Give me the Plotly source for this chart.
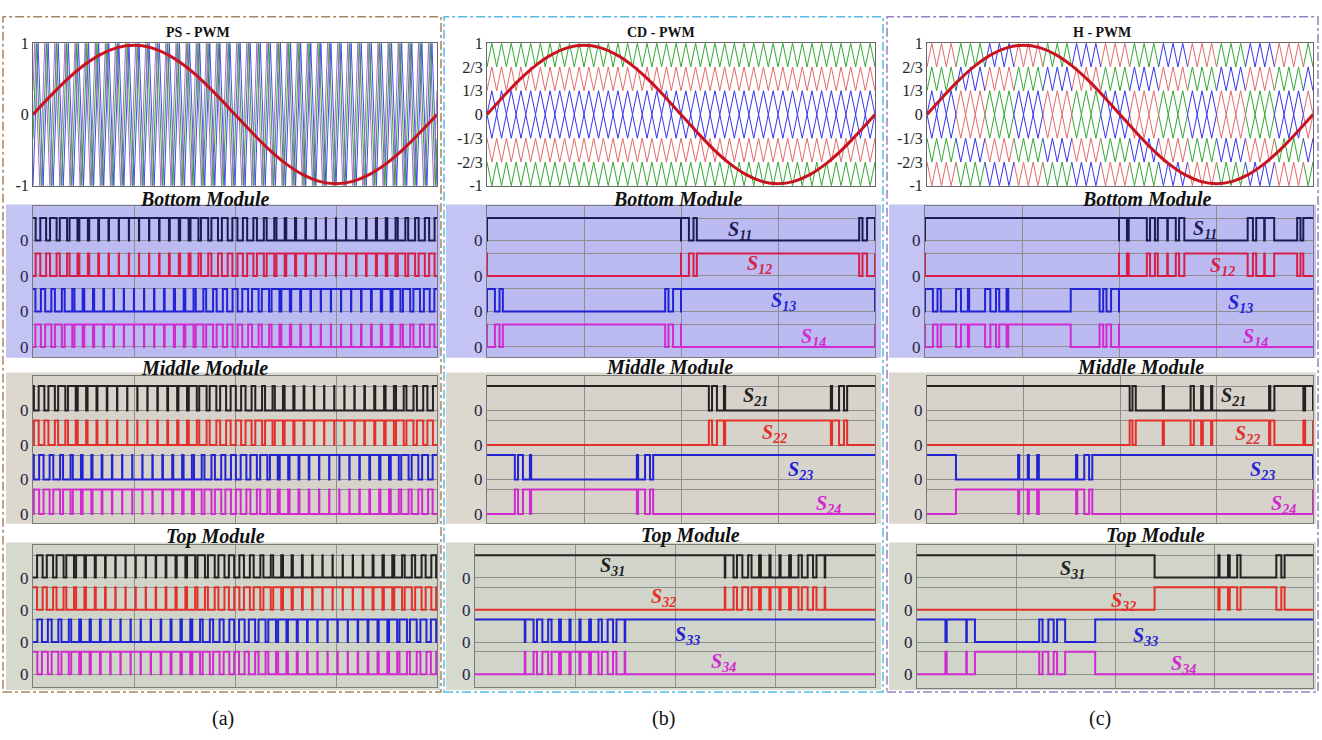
import numpy as np
import plotly.graph_objects as go

W, H = 1322, 740

# ---------------- values ----------------
ref_angle_deg = [0, 15, 30, 45, 60, 75, 90, 105, 120, 135, 150, 165, 180,
                 195, 210, 225, 240, 255, 270, 285, 300, 315, 330, 345, 360]
ref_value = [0.00, 0.25, 0.485, 0.686, 0.84, 0.937, 0.97, 0.937, 0.84, 0.686, 0.485, 0.25, 0.00,
             -0.25, -0.485, -0.686, -0.84, -0.937, -0.97, -0.937, -0.84, -0.686, -0.485, -0.25, 0.00]
carrier_cycles = 40              # carrier periods per fundamental period
ps_phase = [0.0, 1 / 6, 2 / 6]   # PS-PWM carrier shift per module (fraction of a carrier period)
band_edges = [0.0, 1 / 3, 2 / 3, 1.0]
cd_band = [0, 1, 2]              # CD-PWM band pair used by bottom / middle / top module
h_block_cycles = 3               # H-PWM: carrier periods before the bands rotate
h_band_offset = [0, 2, 1]        # H-PWM: band pair offset of bottom / middle / top module

method_names = ["PS - PWM", "CD - PWM", "H - PWM"]
module_names = ["Bottom Module", "Middle Module", "Top Module"]
panel_tags = ["(a)", "(b)", "(c)"]
ps_tick_vals = [1, 0, -1]
ps_tick_text = ["1", "0", "-1"]
lvl_tick_vals = [1, 2 / 3, 1 / 3, 0, -1 / 3, -2 / 3, -1]
lvl_tick_text = ["1", "2/3", "1/3", "0", "-1/3", "-2/3", "-1"]
switch_ids = [["11", "12", "13", "14"], ["21", "22", "23", "24"], ["31", "32", "33", "34"]]

# ---------------- styles / layout ----------------
SERIF = "Liberation Serif"
ps_carrier_colors = ["#4646ff", "#35a035", "#a070c8"]
module_carrier_colors = ["#3535ee", "#e36b6b", "#35a835"]
sig_colors = [
    ["#1b1b58", "#d81e48", "#2323d6", "#d12ad1"],
    ["#222222", "#e3302a", "#2323d6", "#d12ad1"],
    ["#222222", "#e3302a", "#2323d6", "#d12ad1"],
]
carrier_box = [(33, 437, 36, 182), (487, 875, 36, 182), (927, 1313, 36, 182)]
module_box = [
    [(33, 437, 203, 357), (33, 437, 377, 527), (33, 437, 550, 695)],
    [(487, 875, 203, 357), (487, 875, 377, 527), (475, 875, 550, 695)],
    [(925, 1313, 203, 357), (927, 1313, 377, 527), (917, 1313, 550, 696)],
]
row_geom = [(238, 23, 36.3), (412, 25, 35.3), (583, 23, 33.0)]  # first baseline px, amplitude px, spacing px
region_y = [(201, 358), (373, 528), (547, 698)]
region_x = [(6, 440), (446, 881), (889, 1316)]
region_tint = ["#c3c3f4", "#dcd8d0", "#d6d9ce"]
panel_tint = ["#bbbbf1", "#d7d2ca", "#d1d4c8"]
border_colors = ["#a98462", "#58b9e6", "#9581c4"]
border_x = [(3, 441), (444, 883), (887, 1318)]

label_pos = {
    (1, 0): [(740, 228), (760, 263), (783, 300), (813, 337)],
    (2, 0): [(1205, 227), (1222, 265), (1240, 302), (1255, 337)],
    (1, 1): [(755, 398), (775, 435), (800, 473), (828, 508)],
    (2, 1): [(1233, 398), (1247, 437), (1262, 473), (1283, 508)],
    (1, 2): [(612, 572), (663, 603), (687, 642), (723, 670)],
    (2, 2): [(1072, 575), (1123, 607), (1145, 643), (1183, 672)],
}
title_pos = [(198, 25), (661, 25), (1102, 25)]
module_title_pos = [
    [(205, 195), (204, 368), (216, 541)],
    [(677, 195), (670, 367), (690, 540)],
    [(1146, 195), (1140, 367), (1155, 540)],
]
tag_pos = [(223, 727), (663, 727), (1100, 727)]


def fx(x):
    return x / W


def fy(y):
    return 1 - y / H


# ---------------- modulation (comparison of reference and carriers) ----------------
N = 40001
t = np.linspace(0.0, 1.0, N)
ref = np.interp(t * 360.0, ref_angle_deg, ref_value)
edges = np.asarray(band_edges)


def tri(tt, phase=0.0):
    u = np.mod(np.asarray(tt) * carrier_cycles + phase, 1.0)
    return 1.0 - np.abs(2.0 * u - 1.0)


def band_carrier(p, tr):
    lo = edges[p]
    hi = edges[np.asarray(p) + 1]
    return lo + (hi - lo) * tr


tr0 = tri(t)
signals = {}
for k in range(3):
    c = 2 * tri(t, ps_phase[k]) - 1
    s1, s3 = ref > c, ref < -c
    signals[(0, k)] = [s1, ~s1, s3, ~s3]
for k in range(3):
    up = band_carrier(np.full(N, cd_band[k]), tr0)
    s1, s3 = ref > -up, ref < up
    signals[(1, k)] = [s1, ~s1, s3, ~s3]
block = np.floor(t * carrier_cycles / h_block_cycles).astype(int)
for k in range(3):
    p = (block + h_band_offset[k]) % 3
    up = band_carrier(p, tr0)
    s1, s3 = ref > -up, ref < up
    signals[(2, k)] = [s1, ~s1, s3, ~s3]


def step_xy(sig, base):
    v = sig.astype(int)
    idx = np.nonzero(np.diff(v))[0] + 1
    xs = np.concatenate([[0.0], t[idx], [1.0]])
    ys = np.concatenate([[v[0]], v[idx], [v[-1]]]) + base
    return xs, ys


# ---------------- figure ----------------
fig = go.Figure()
layout = dict(width=W, height=H, margin=dict(l=0, r=0, t=0, b=0, pad=0),
              paper_bgcolor="white", plot_bgcolor="rgba(0,0,0,0)", showlegend=False)
shapes, annotations = [], []


def ax_names(n):
    return ("xaxis" if n == 1 else f"xaxis{n}", "yaxis" if n == 1 else f"yaxis{n}",
            "x" if n == 1 else f"x{n}", "y" if n == 1 else f"y{n}")


def note(x, y, text, size, color="#111"):
    annotations.append(dict(x=fx(x), y=fy(y), xref="paper", yref="paper", text=text,
                            showarrow=False, xanchor="center", yanchor="middle",
                            font=dict(family=SERIF, size=size, color=color)))


n = 0
for col in range(3):
    # ---- carrier subplot ----
    n += 1
    xa, ya, xr, yr = ax_names(n)
    x0, x1, y0, y1 = carrier_box[col]
    layout[xa] = dict(domain=[fx(x0), fx(x1)], range=[0, 1], anchor=yr, showgrid=False, zeroline=False,
                      showticklabels=False, ticks="", showline=True, mirror=True, linecolor="#666", linewidth=1)
    tv, tt_ = (ps_tick_vals, ps_tick_text) if col == 0 else (lvl_tick_vals, lvl_tick_text)
    layout[ya] = dict(domain=[fy(y1), fy(y0)], range=[-1, 1], anchor=xr, showgrid=False, zeroline=False,
                      tickvals=tv, ticktext=tt_, ticks="", showline=True, mirror=True, linecolor="#666",
                      linewidth=1, tickfont=dict(family=SERIF, size=16, color="#222"))
    if col == 0:
        for k in range(3):
            nn = np.arange(-2, 2 * carrier_cycles + 3)
            tv_ = (nn / 2 - ps_phase[k]) / carrier_cycles
            tv_ = tv_[(tv_ > 0) & (tv_ < 1)]
            tv_ = np.concatenate([[0.0], tv_, [1.0]])
            fig.add_trace(go.Scatter(x=tv_, y=2 * tri(tv_, ps_phase[k]) - 1, mode="lines",
                                     line=dict(color=ps_carrier_colors[k], width=1),
                                     xaxis=xr, yaxis=yr, hoverinfo="skip"))
    elif col == 1:
        tv_ = np.arange(2 * carrier_cycles + 1) / (2 * carrier_cycles)
        for k in [2, 1, 0]:
            up = band_carrier(np.full(len(tv_), cd_band[k]), tri(tv_))
            xs = list(tv_) + [None] + list(tv_)
            ys = list(up) + [None] + list(-up)
            fig.add_trace(go.Scatter(x=xs, y=ys, mode="lines",
                                     line=dict(color=module_carrier_colors[k], width=1),
                                     xaxis=xr, yaxis=yr, hoverinfo="skip"))
    else:
        nblocks = int(np.ceil(carrier_cycles / h_block_cycles))
        for k in [2, 1, 0]:
            xs, ys = [], []
            for j in range(nblocks):
                i0 = 2 * h_block_cycles * j
                i1 = min(2 * h_block_cycles * (j + 1), 2 * carrier_cycles)
                tv_ = np.arange(i0, i1 + 1) / (2 * carrier_cycles)
                p = (j + h_band_offset[k]) % 3
                up = band_carrier(np.full(len(tv_), p), tri(tv_))
                xs += list(tv_) + [None] + list(tv_) + [None]
                ys += list(up) + [None] + list(-up) + [None]
            fig.add_trace(go.Scatter(x=xs, y=ys, mode="lines",
                                     line=dict(color=module_carrier_colors[k], width=1),
                                     xaxis=xr, yaxis=yr, hoverinfo="skip"))
    fig.add_trace(go.Scatter(x=np.asarray(ref_angle_deg) / 360.0, y=ref_value, mode="lines",
                             line=dict(color="#c8141e", width=3, shape="spline"),
                             xaxis=xr, yaxis=yr, hoverinfo="skip"))
    note(title_pos[col][0], title_pos[col][1], f"<b>{method_names[col]}</b>", 14)

    # ---- module subplots ----
    for r in range(3):
        n += 1
        xa, ya, xr, yr = ax_names(n)
        x0, x1, y0, y1 = module_box[col][r]
        base_px, amp, spc = row_geom[r]
        d = spc / amp
        top = (base_px - y0) / amp
        bot = -(y1 - base_px) / amp
        bases = [-i * d for i in range(4)]
        layout[xa] = dict(domain=[fx(x0), fx(x1)], range=[0, 1], anchor=yr, showgrid=True,
                          gridcolor="#8e8e8e", gridwidth=1, zeroline=False, tickvals=[0.25, 0.5, 0.75],
                          showticklabels=False, ticks="", showline=True, mirror=True,
                          linecolor="#7a7a7a", linewidth=1)
        layout[ya] = dict(domain=[fy(y1), fy(y0)], range=[bot, top], anchor=xr, showgrid=True,
                          gridcolor="#8e8e8e", gridwidth=1, zeroline=False,
                          tickvals=bases, ticktext=["0"] * 4,
                          minor=dict(tickvals=[b + 1 for b in bases], showgrid=True,
                                     gridcolor="#8e8e8e", gridwidth=1, ticks=""),
                          ticks="", showline=True, mirror=True, linecolor="#7a7a7a", linewidth=1,
                          tickfont=dict(family=SERIF, size=17, color="#262640"))
        # tints
        rx0, rx1 = region_x[col]
        ry0, ry1 = region_y[r]
        shapes.append(dict(type="rect", xref="paper", yref="paper", x0=fx(rx0), x1=fx(rx1),
                           y0=fy(ry1), y1=fy(ry0), fillcolor=region_tint[r], line=dict(width=0),
                           layer="below"))
        shapes.append(dict(type="rect", xref="paper", yref="paper", x0=fx(x0), x1=fx(x1),
                           y0=fy(y1), y1=fy(y0), fillcolor=panel_tint[r], line=dict(width=0),
                           layer="below"))
        for i, sig in enumerate(signals[(col, r)]):
            xs, ys = step_xy(sig, bases[i])
            fig.add_trace(go.Scatter(x=xs, y=ys, mode="lines",
                                     line=dict(color=sig_colors[r][i], width=2, shape="hv"),
                                     xaxis=xr, yaxis=yr, hoverinfo="skip"))
        mx, my = module_title_pos[col][r]
        note(mx, my, f"<b><i>{module_names[r]}</i></b>", 20)
        if (col, r) in label_pos:
            for i, (lx, ly) in enumerate(label_pos[(col, r)]):
                note(lx, ly, f"<b><i>S</i></b><sub><b><i>{switch_ids[r][i]}</i></b></sub>", 20,
                     sig_colors[r][i])

    # ---- column border + tag ----
    bx0, bx1 = border_x[col]
    shapes.append(dict(type="rect", xref="paper", yref="paper", x0=fx(bx0), x1=fx(bx1),
                       y0=fy(700), y1=fy(9), line=dict(color=border_colors[col], width=1.5, dash="dashdot"),
                       fillcolor="rgba(0,0,0,0)", layer="above"))
    note(tag_pos[col][0], tag_pos[col][1], panel_tags[col], 20)

layout["shapes"] = shapes
layout["annotations"] = annotations
fig.update_layout(**layout)
fig.write_html("out.html")
